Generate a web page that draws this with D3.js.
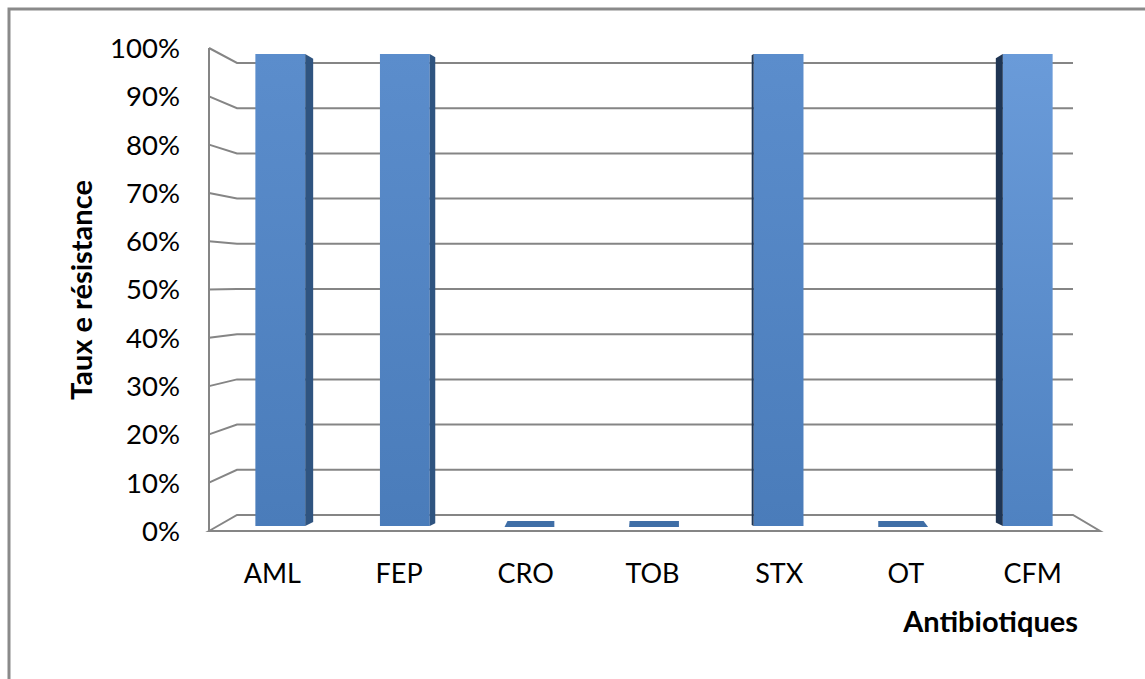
<!DOCTYPE html>
<html>
  <head>
    <script src="https://d3js.org/d3.v7.min.js"></script>
    <style>
      body { margin: 0; background: #fff; }
      text { font-family: Lato, "Liberation Sans", sans-serif; fill: #000; }
    </style>
  </head>
  <body>
    <svg id="chart" width="1145" height="679"></svg>
    <script>
      // data
      const categories = ["AML", "FEP", "CRO", "TOB", "STX", "OT", "CFM"];
      const values = [1, 1, 0, 0, 1, 0, 1];
      const yTicks = [0, 0.1, 0.2, 0.3, 0.4, 0.5, 0.6, 0.7, 0.8, 0.9, 1];

      const svg = d3.select("#chart");

      // outer frame (runs off the right and bottom edges)
      svg.append("rect")
        .attr("x", 9).attr("y", 9)
        .attr("width", 1200).attr("height", 700)
        .attr("fill", "none")
        .attr("stroke", "#8a8a8a")
        .attr("stroke-width", 3);

      // 3d box geometry
      const frontLeft = 209, backLeft = 237, backRight = 1073, frontRight = 1100;
      const yFront = d3.scaleLinear().domain([0, 1]).range([531, 48]);
      const yBack = d3.scaleLinear().domain([0, 1]).range([515, 63]);
      const yBar = d3.scaleLinear().domain([0, 1]).range([526, 54]);
      const x = d3.scaleBand().domain(categories).range([218, 1090])
        .paddingInner(0.6).paddingOuter(0.3);
      // labels sit on the front edge of the floor
      const xLabel = d3.scalePoint().domain(categories).range([209, 1096]).padding(0.5);

      const grid = svg.append("g")
        .attr("stroke", "#858585")
        .attr("stroke-width", 2)
        .attr("fill", "none");

      // left wall vertical
      grid.append("line")
        .attr("x1", frontLeft).attr("x2", frontLeft)
        .attr("y1", yFront(1)).attr("y2", yFront(0));

      // gridlines: diagonal on left wall + horizontal on back wall
      grid.selectAll("path.gl")
        .data(yTicks.filter(d => d > 0))
        .enter().append("path")
        .attr("class", "gl")
        .attr("d", d => `M${frontLeft},${yFront(d)}L${backLeft},${yBack(d)}L${backRight},${yBack(d)}`);

      // floor
      grid.append("path")
        .attr("d", `M${frontLeft},${yFront(0)}L${backLeft},${yBack(0)}L${backRight},${yBack(0)}L${frontRight},${yFront(0)}Z`);

      // y tick labels
      svg.append("g").selectAll("text")
        .data(yTicks)
        .enter().append("text")
        .attr("x", 180)
        .attr("y", d => yFront(d))
        .attr("dy", "0.36em")
        .attr("text-anchor", "end")
        .style("font-size", "27.5px")
        .text(d => d3.format(".0%")(d));

      // bars
      const defs = svg.append("defs");
      const grad = defs.append("linearGradient")
        .attr("id", "face").attr("x1", 0).attr("y1", 0).attr("x2", 0).attr("y2", 1);
      grad.append("stop").attr("offset", "0%").attr("stop-color", "#5b8dcc");
      grad.append("stop").attr("offset", "100%").attr("stop-color", "#4a7cba");
      const grad2 = defs.append("linearGradient")
        .attr("id", "faceLight").attr("x1", 0).attr("y1", 0).attr("x2", 0).attr("y2", 1);
      grad2.append("stop").attr("offset", "0%").attr("stop-color", "#6a9bd9");
      grad2.append("stop").attr("offset", "100%").attr("stop-color", "#4f82c1");

      const vp = 679;   // vanishing x for side faces
      const bars = svg.append("g");
      categories.forEach(function(c, i) {
        const v = values[i];
        const L = x(c), R = x(c) + x.bandwidth();
        const cx = L + x.bandwidth() / 2;
        const s = 0.02 * (vp - cx);
        const top = yBar(v), bot = yBar(0);
        if (v > 0) {
          bars.append("rect")
            .attr("x", L).attr("y", top)
            .attr("width", x.bandwidth()).attr("height", bot - top)
            .attr("fill", cx > 950 ? "url(#faceLight)" : "url(#face)");
          const ex = s > 0 ? R : L;
          const a = Math.abs(s);
          bars.append("path")
            .attr("d", `M${ex},${top}L${ex + s},${top + a * 0.6}L${ex + s},${bot - a * 0.5}L${ex},${bot}Z`)
            .attr("fill", s > 0 ? "#2f5480" : "#1f3553");
        } else {
          const tl = L + Math.max(s, 0), tr = R + Math.min(s, 0);
          bars.append("path")
            .attr("d", `M${tl},${bot - 5}L${tr},${bot - 5}L${R},${bot + 1}L${L},${bot + 1}Z`)
            .attr("fill", "#3f6ea6");
        }
      });

      // category labels
      svg.append("g").selectAll("text")
        .data(categories)
        .enter().append("text")
        .attr("x", d => xLabel(d))
        .attr("y", 573)
        .attr("dy", "0.36em")
        .attr("text-anchor", "middle")
        .style("font-size", "27px")
        .text(d => d);

      // axis titles
      svg.append("text")
        .attr("x", 1078).attr("y", 622)
        .attr("dy", "0.36em")
        .attr("text-anchor", "end")
        .style("font-size", "29px")
        .style("font-weight", "bold")
        .text("Antibiotiques");

      svg.append("text")
        .attr("transform", "translate(82,290) rotate(-90)")
        .attr("dy", "0.36em")
        .attr("text-anchor", "middle")
        .style("font-size", "29px")
        .style("font-weight", "bold")
        .text("Taux e résistance");
    </script>
  </body>
</html>
